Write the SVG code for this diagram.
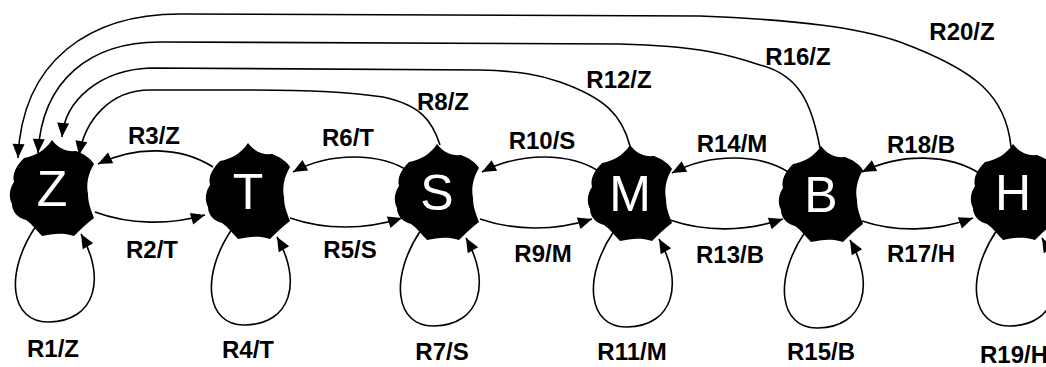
<svg xmlns="http://www.w3.org/2000/svg" xmlns:xlink="http://www.w3.org/1999/xlink" width="1046" height="367" viewBox="0 0 1046 367">
<style>
.edge{fill:none;stroke:#000;stroke-width:1.6;marker-end:url(#ah)}
.blob{fill:#000}
.nl{font-family:"Liberation Sans",Arial,sans-serif;font-size:50px;fill:#fff;text-anchor:middle}
.el{font-family:"Liberation Sans",Arial,sans-serif;font-size:24px;font-weight:bold;fill:#000;text-anchor:middle}
</style>
<defs>
<marker id="ah" viewBox="-15 -7 16 14" refX="0" refY="0" markerWidth="16" markerHeight="14" markerUnits="userSpaceOnUse" orient="auto">
<path d="M0,0 L-14,-6 L-14,6 Z" fill="#000"/>
</marker>
<path id="blob" class="blob" d="M -28,-30 C -18,-32 -8,-36 0,-48 C 6,-40 14,-36 24,-37 C 32,-34 38,-30 42,-24 C 36,-14 34,-4 36,6 C 36,16 40,24 42,30 C 34,36 28,42 22,48 C 10,44 0,46 -10,48 C -16,42 -20,36 -26,32 C -34,30 -40,24 -40,16 C -44,8 -42,0 -38,-6 C -40,-14 -36,-22 -28,-30 Z"/>
</defs>
<rect width="1046" height="367" fill="#fff"/>
<g id="connectors">
<!-- self loops -->
<path class="edge" d="M 36,226 C 4,273 10,323 49,322 C 96,321 106,278 81,234"/>
<path class="edge" d="M 232,229 C 200,276 206,326 245,325 C 292,324 302,281 277,237"/>
<path class="edge" d="M 421,230 C 389,277 395,327 434,326 C 481,325 491,282 466,238"/>
<path class="edge" d="M 614,231 C 582,278 588,328 627,327 C 674,326 684,283 659,239"/>
<path class="edge" d="M 805,232 C 773,279 779,329 818,328 C 865,327 875,284 850,240"/>
<path class="edge" d="M 997,230 C 965,277 971,327 1010,326 C 1057,325 1067,282 1042,238"/>
<!-- forward -->
<path class="edge" d="M 95,212 C 130,225 170,225 205,215"/>
<path class="edge" d="M 290,218 C 325,230 365,230 402,218"/>
<path class="edge" d="M 480,219 C 515,231 555,231 592,219"/>
<path class="edge" d="M 670,220 C 705,232 745,232 783,219"/>
<path class="edge" d="M 862,221 C 895,232 935,232 973,218"/>
<!-- backward -->
<path class="edge" d="M 213,167 C 180,146 135,146 98,164"/>
<path class="edge" d="M 410,172 C 380,152 330,152 293,172"/>
<path class="edge" d="M 600,172 C 570,152 520,152 482,172"/>
<path class="edge" d="M 790,173 C 760,153 710,153 672,173"/>
<path class="edge" d="M 982,175 C 950,153 900,153 862,172"/>
<!-- long returns to Z -->
<path class="edge" d="M 1011,147 C 1006,95 975,70 900,42 C 860,28 800,20 700,16 L 180,14 C 90,14 22,60 18,158"/>
<path class="edge" d="M 820,148 C 812,105 800,75 760,65 C 730,55 700,46 620,44 L 160,42 C 90,42 42,80 38,153"/>
<path class="edge" d="M 630,146 C 622,115 605,98 560,82 C 540,75 520,71 480,70 L 150,68 C 100,70 65,100 62,137"/>
<path class="edge" d="M 440,145 C 432,120 420,105 383,97 C 350,92 300,90 250,90 L 150,90 C 110,90 85,120 79,155"/>
</g>
<g id="labels">
<text class="el" x="154" y="144">R3/Z</text>
<text class="el" x="348" y="146">R6/T</text>
<text class="el" x="542" y="149">R10/S</text>
<text class="el" x="732" y="152">R14/M</text>
<text class="el" x="921" y="153">R18/B</text>
<text class="el" x="152" y="258">R2/T</text>
<text class="el" x="350" y="258">R5/S</text>
<text class="el" x="543" y="262">R9/M</text>
<text class="el" x="730" y="263">R13/B</text>
<text class="el" x="921" y="262">R17/H</text>
<text class="el" x="53" y="357">R1/Z</text>
<text class="el" x="248" y="358">R4/T</text>
<text class="el" x="442" y="360">R7/S</text>
<text class="el" x="632" y="360">R11/M</text>
<text class="el" x="821" y="360">R15/B</text>
<text class="el" x="980" y="363" style="text-anchor:start">R19/H</text>
<text class="el" x="443" y="110">R8/Z</text>
<text class="el" x="619" y="88">R12/Z</text>
<text class="el" x="798" y="65">R16/Z</text>
<text class="el" x="962" y="40">R20/Z</text>
</g>
<g id="node-Z" transform="translate(52,188)"><use href="#blob"/><text class="nl" y="18">Z</text></g>
<g id="node-T" transform="translate(248,191)"><use href="#blob"/><text class="nl" y="18">T</text></g>
<g id="node-S" transform="translate(437,192)"><use href="#blob"/><text class="nl" y="18">S</text></g>
<g id="node-M" transform="translate(630,193)"><use href="#blob"/><text class="nl" y="18">M</text></g>
<g id="node-B" transform="translate(821,194)"><use href="#blob"/><text class="nl" y="18">B</text></g>
<g id="node-H" transform="translate(1013,192)"><use href="#blob"/><text class="nl" y="18">H</text></g>
</svg>
